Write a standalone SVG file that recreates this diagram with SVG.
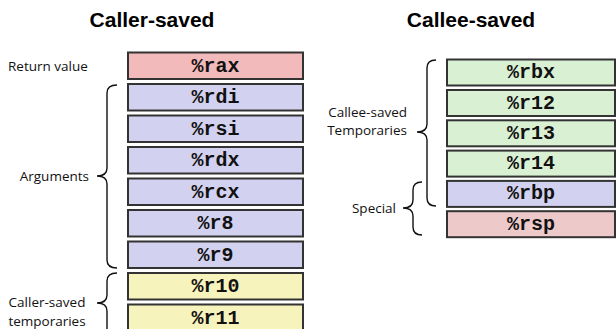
<svg xmlns="http://www.w3.org/2000/svg" width="616" height="329" viewBox="0 0 616 329">
<style>
.title{font-family:"Liberation Sans",Arial,sans-serif;font-weight:bold;font-size:21px;fill:#000;text-anchor:middle}
.lbl{font-family:"Open Sans","Liberation Sans",sans-serif;font-size:13.5px;fill:#111}
.reg{font-family:"Liberation Mono","Courier New",monospace;font-weight:bold;font-size:20px;fill:#111;text-anchor:middle}
.box{stroke:#333;stroke-width:2}
.pink{fill:#f2baba}
.lav{fill:#d3d1f0}
.yel{fill:#f7f3bd}
.grn{fill:#d9f0d3}
.rsp{fill:#edc9c9}
.brace{fill:none;stroke:#111;stroke-width:1.4}
</style>
<rect width="616" height="329" fill="#fff"/>
<text class="title" x="152" y="27">Caller-saved</text>
<text class="title" x="471" y="27">Callee-saved</text>

<g id="labels">
<text class="lbl" x="8" y="71">Return value</text>
<text class="lbl" x="89" y="181" text-anchor="end">Arguments</text>
<text class="lbl" x="47" y="307" text-anchor="middle">Caller-saved</text>
<text class="lbl" x="47" y="326" text-anchor="middle">temporaries</text>
<text class="lbl" x="407" y="117" text-anchor="end">Callee-saved</text>
<text class="lbl" x="407" y="135" text-anchor="end">Temporaries</text>
<text class="lbl" x="396" y="213" text-anchor="end">Special</text>
</g>

<g id="connectors">
<path class="brace" d="M117,85 Q107,85 107,93 L107,168 Q107,176 97,176 Q107,176 107,184 L107,260 Q107,268 117,268"/>
<path class="brace" d="M117,273 Q107,273 107,281 L107,295 Q107,303 97,303 Q107,303 107,311 L107,330"/>
<path class="brace" d="M436,60 Q427,60 427,68 L427,124 Q427,132 417,132 Q427,132 427,140 L427,198 Q427,206 436,206"/>
<path class="brace" d="M422,182 Q413,182 413,190 L413,200 Q413,208 403,208 Q413,208 413,216 L413,227 Q413,235 422,235"/>
</g>

<g id="rax"><rect class="box pink" x="128" y="52.5" width="175" height="26.5"/><text class="reg" x="215.5" y="71.5">%rax</text></g>
<g id="rdi"><rect class="box lav" x="128" y="84" width="175" height="26.5"/><text class="reg" x="215.5" y="103">%rdi</text></g>
<g id="rsi"><rect class="box lav" x="128" y="115.5" width="175" height="26.5"/><text class="reg" x="215.5" y="134.5">%rsi</text></g>
<g id="rdx"><rect class="box lav" x="128" y="147" width="175" height="26.5"/><text class="reg" x="215.5" y="166">%rdx</text></g>
<g id="rcx"><rect class="box lav" x="128" y="178.5" width="175" height="26.5"/><text class="reg" x="215.5" y="197.5">%rcx</text></g>
<g id="r8"><rect class="box lav" x="128" y="210" width="175" height="26.5"/><text class="reg" x="215.5" y="229">%r8</text></g>
<g id="r9"><rect class="box lav" x="128" y="241.5" width="175" height="26.5"/><text class="reg" x="215.5" y="260.5">%r9</text></g>
<g id="r10"><rect class="box yel" x="128" y="273" width="175" height="26.5"/><text class="reg" x="215.5" y="292">%r10</text></g>
<g id="r11"><rect class="box yel" x="128" y="304.5" width="175" height="26.5"/><text class="reg" x="215.5" y="323.5">%r11</text></g>

<g id="rbx"><rect class="box grn" x="447" y="59.5" width="168" height="26"/><text class="reg" x="531" y="78">%rbx</text></g>
<g id="r12"><rect class="box grn" x="447" y="90" width="168" height="26"/><text class="reg" x="531" y="108.5">%r12</text></g>
<g id="r13"><rect class="box grn" x="447" y="120.3" width="168" height="26"/><text class="reg" x="531" y="138.8">%r13</text></g>
<g id="r14"><rect class="box grn" x="447" y="150.6" width="168" height="26"/><text class="reg" x="531" y="169.1">%r14</text></g>
<g id="rbp"><rect class="box lav" x="447" y="180.9" width="168" height="26"/><text class="reg" x="531" y="199.4">%rbp</text></g>
<g id="rsp"><rect class="box rsp" x="447" y="211.2" width="168" height="26"/><text class="reg" x="531" y="229.7">%rsp</text></g>
</svg>
